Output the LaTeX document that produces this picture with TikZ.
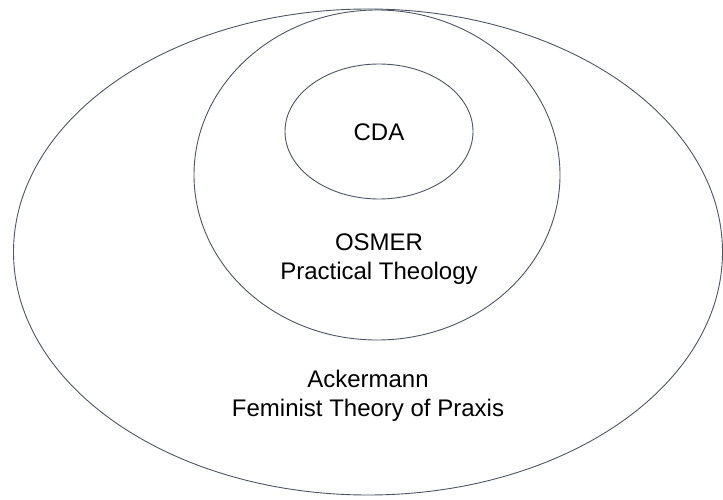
\documentclass[tikz,border=0pt]{standalone}
\usepackage{fontspec}
\setmainfont{Liberation Sans}
\usepackage{tikz}
\usetikzlibrary{positioning}
\definecolor{ringgray}{HTML}{4F5563}

\begin{document}
\begin{tikzpicture}[x=1pt, y=1pt,
    ring/.style={draw=ringgray, line width=0.9pt},
    label/.style={align=center, inner sep=0pt,
      font=\fontsize{24}{28.5}\selectfont},
  ]
    \useasboundingbox[fill=white] (0,0) rectangle (723,499);
    \draw[ring] (368,247) ellipse [x radius=354.5, y radius=243];
    \draw[ring] (377,324) ellipse [x radius=183, y radius=165];
    \draw[ring] (379,367.5) ellipse [x radius=94, y radius=67.5];
    \node[label] (cda) at (379,367) {CDA};
    \node[label] (osmer) at (379,240) {OSMER\\Practical Theology};
    \node[label] (ackermann) at (368,103) {Ackermann\\Feminist Theory of Praxis};
  \end{tikzpicture}
\end{document}
